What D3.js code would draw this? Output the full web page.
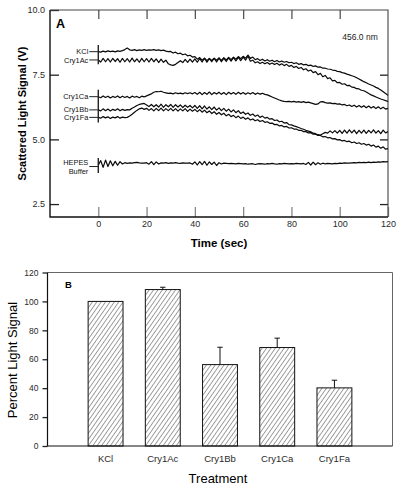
<!DOCTYPE html>
<html><head><meta charset="utf-8">
<script src="https://cdn.jsdelivr.net/npm/d3@7"></script>
<style>
body{margin:0;background:#fff;}
svg{display:block;font-family:"Liberation Sans",Arial,Helvetica,sans-serif;}
</style></head><body>
<svg id="chart" width="404" height="489"></svg>
<script>
// ---------- Panel A data (1-second samples, t = 0..120 s) ----------
const kclTrace = [
8.39,8.37,8.41,8.38,8.42,8.39,8.41,8.38,8.42,8.40,
8.43,8.47,8.53,8.46,8.44,8.47,8.43,8.46,8.44,8.47,
8.44,8.46,8.45,8.47,8.44,8.46,8.43,8.45,8.41,8.39,
8.40,8.34,8.37,8.31,8.33,8.27,8.30,8.23,8.25,8.18,
8.20,8.10,8.16,8.06,8.14,8.04,8.13,8.05,8.14,8.06,
8.15,8.05,8.16,8.07,8.17,8.08,8.18,8.10,8.20,8.12,
8.21,8.14,8.26,8.13,8.18,8.08,8.12,8.05,8.10,8.03,
8.08,8.02,8.06,8.00,8.05,7.99,8.03,7.98,8.01,7.96,
7.98,7.93,7.96,7.90,7.93,7.88,7.90,7.85,7.87,7.82,
7.84,7.79,7.80,7.75,7.75,7.72,7.71,7.68,7.67,7.63,
7.62,7.58,7.56,7.52,7.49,7.46,7.43,7.38,7.33,7.28,
7.23,7.19,7.14,7.10,7.06,7.01,6.97,6.91,6.84,6.77,6.70];
const cry1AcTrace = [
8.07,7.99,8.13,8.00,8.12,7.99,8.13,8.01,8.12,7.98,
8.13,8.00,8.12,7.99,8.14,8.00,8.11,7.98,8.13,8.00,
8.12,7.99,8.13,8.00,8.11,7.97,8.10,7.98,8.06,7.92,
7.88,7.86,7.90,7.97,8.04,7.97,8.09,7.98,8.10,7.99,
8.11,7.98,8.12,7.99,8.13,7.98,8.12,8.00,8.13,7.99,
8.14,8.00,8.13,8.01,8.15,8.02,8.16,8.03,8.17,8.04,
8.18,8.06,8.22,8.02,8.06,7.96,8.00,7.93,7.98,7.92,
7.97,7.90,7.95,7.89,7.94,7.87,7.92,7.85,7.90,7.82,
7.86,7.78,7.82,7.74,7.78,7.69,7.73,7.64,7.68,7.58,
7.62,7.50,7.55,7.42,7.47,7.35,7.38,7.26,7.28,7.19,
7.20,7.13,7.15,7.08,7.09,7.02,7.01,6.96,6.95,6.90,
6.88,6.83,6.77,6.72,6.68,6.64,6.60,6.56,6.53,6.50,6.46];
const cry1CaTrace = [
6.65,6.61,6.68,6.62,6.67,6.60,6.66,6.62,6.68,6.61,
6.67,6.62,6.66,6.60,6.67,6.63,6.66,6.61,6.67,6.64,
6.68,6.72,6.76,6.82,6.85,6.84,6.86,6.82,6.80,6.78,
6.79,6.76,6.80,6.77,6.79,6.76,6.80,6.77,6.80,6.76,
6.81,6.74,6.82,6.73,6.81,6.74,6.83,6.73,6.81,6.75,
6.82,6.74,6.81,6.73,6.82,6.75,6.81,6.74,6.82,6.75,
6.81,6.74,6.80,6.75,6.81,6.74,6.79,6.75,6.78,6.74,
6.72,6.68,6.64,6.60,6.56,6.52,6.49,6.47,6.46,6.47,
6.45,6.47,6.44,6.46,6.43,6.46,6.42,6.44,6.41,6.38,
6.35,6.37,6.45,6.46,6.42,6.40,6.41,6.38,6.39,6.36,
6.37,6.33,6.35,6.30,6.33,6.27,6.32,6.25,6.31,6.24,
6.30,6.22,6.29,6.21,6.27,6.19,6.26,6.18,6.24,6.17,6.20];
const cry1BbTrace = [
6.14,6.10,6.18,6.11,6.17,6.10,6.16,6.12,6.18,6.11,
6.16,6.12,6.15,6.14,6.20,6.25,6.31,6.35,6.37,6.39,
6.33,6.27,6.35,6.26,6.34,6.25,6.36,6.24,6.34,6.26,
6.35,6.24,6.34,6.25,6.33,6.23,6.32,6.24,6.31,6.22,
6.31,6.20,6.30,6.18,6.29,6.17,6.26,6.15,6.25,6.13,
6.22,6.11,6.20,6.09,6.17,6.06,6.14,6.03,6.11,6.00,
6.06,5.97,6.02,5.93,5.98,5.89,5.94,5.85,5.90,5.82,
5.85,5.78,5.80,5.73,5.75,5.68,5.70,5.63,5.65,5.57,
5.56,5.52,5.49,5.46,5.42,5.39,5.35,5.32,5.29,5.24,
5.22,5.18,5.17,5.22,5.27,5.24,5.33,5.25,5.34,5.24,
5.35,5.23,5.36,5.24,5.37,5.25,5.36,5.22,5.35,5.24,
5.36,5.23,5.35,5.25,5.37,5.24,5.34,5.22,5.36,5.25,5.30];
const cry1FaTrace = [
5.85,5.82,5.88,5.83,5.87,5.81,5.86,5.83,5.88,5.82,
5.86,5.84,5.85,5.90,5.97,6.05,6.12,6.18,6.21,6.16,
6.20,6.12,6.19,6.10,6.20,6.11,6.21,6.10,6.19,6.11,
6.20,6.10,6.19,6.09,6.18,6.10,6.19,6.08,6.17,6.09,
6.16,6.07,6.15,6.05,6.13,6.03,6.10,6.00,6.07,5.97,
6.04,5.95,6.01,5.91,5.97,5.88,5.93,5.84,5.90,5.81,
5.86,5.78,5.83,5.75,5.79,5.72,5.76,5.69,5.73,5.66,
5.68,5.62,5.63,5.57,5.58,5.52,5.54,5.48,5.50,5.44,
5.45,5.40,5.40,5.35,5.35,5.30,5.30,5.25,5.26,5.20,
5.20,5.15,5.15,5.10,5.11,5.06,5.07,5.02,5.03,4.98,
4.99,4.94,4.96,4.91,4.93,4.87,4.90,4.84,4.87,4.81,
4.84,4.78,4.81,4.74,4.78,4.70,4.74,4.66,4.71,4.62,4.64];
const hepesTrace = [
4.00,4.18,3.92,4.20,3.95,4.17,3.98,4.15,4.00,4.14,
4.05,4.10,4.07,4.09,4.08,4.10,4.11,4.09,4.08,4.08,
4.10,4.04,4.14,4.02,4.13,4.05,4.09,4.08,4.10,4.07,
4.09,4.08,4.10,4.08,4.07,4.09,4.08,4.08,4.09,4.04,
4.13,4.01,4.14,4.02,4.15,4.00,4.13,4.03,4.12,3.99,
4.10,4.05,4.08,4.07,4.06,4.07,4.06,4.05,4.07,4.06,
4.05,4.06,4.04,4.05,4.06,4.03,4.05,4.06,4.05,4.04,
4.06,4.05,4.07,4.05,4.04,4.06,4.05,4.07,4.06,4.05,
4.06,4.05,4.07,4.06,4.05,4.07,4.03,4.11,4.01,4.12,
4.02,4.10,4.04,4.08,4.05,4.07,4.06,4.05,4.07,4.06,
4.08,4.07,4.09,4.08,4.08,4.09,4.10,4.09,4.11,4.10,
4.11,4.10,4.12,4.10,4.12,4.11,4.13,4.12,4.14,4.13,4.14];
const sampleTimes = d3.range(0, kclTrace.length); // seconds

const traceNames = ["KCl","Cry1Ac","Cry1Ca","Cry1Bb","Cry1Fa"];
const traceSeries = [kclTrace, cry1AcTrace, cry1CaTrace, cry1BbTrace, cry1FaTrace];
const bufferLabel = ["HEPES","Buffer"];
const bufferLeaderValue = 3.95;
const markerRanges = [[7.9, 8.65],[5.65, 6.92],[3.7, 4.28]];

const timeTicks = [0,20,40,60,80,100,120];
const voltTicks = [2.5,5.0,7.5,10.0];
const timeDomain = [-20,120];
const voltDomain = [2,10];

// ---------- Panel B data ----------
const treatments = ["KCl","Cry1Ac","Cry1Bb","Cry1Ca","Cry1Fa"];
const percentSignal = [100,108.2,56.3,68.1,40.2];
const percentError = [0,1.6,12,6.5,5.3];
const percentTicks = [0,20,40,60,80,100,120];

// ---------- Drawing ----------
const svg = d3.select("#chart");
svg.append("rect").attr("width",404).attr("height",489).attr("fill","#fff");

// Panel A
const A = {l:50, r:388, t:10, b:217};
const x = d3.scaleLinear().domain(timeDomain).range([A.l, A.r]);
const y = d3.scaleLinear().domain(voltDomain).range([A.b, A.t]);
const gA = svg.append("g");

function styleAxis(g, color, size){
  g.select(".domain").remove();
  g.selectAll(".tick line").attr("stroke", color).attr("stroke-width",1.3);
  g.selectAll(".tick text").attr("fill","#2a2a2a").style("font-size", size+"px")
   .style("font-family",'"Liberation Sans",Arial,sans-serif');
}

gA.append("g").attr("transform",`translate(${A.l},0)`)
  .call(d3.axisLeft(y).tickValues(voltTicks).tickSize(-9).tickPadding(5).tickFormat(d3.format(".1f")))
  .call(g=>styleAxis(g,"#222",9));
gA.append("g").attr("transform",`translate(${A.r},0)`)
  .call(d3.axisRight(y).tickValues(voltTicks.filter(v=>v<10)).tickSize(-8).tickFormat(""))
  .call(g=>styleAxis(g,"#222",9));
gA.append("g").attr("transform",`translate(0,${A.b})`)
  .call(d3.axisBottom(x).tickValues(timeTicks).tickSize(-10).tickPadding(4))
  .call(g=>styleAxis(g,"#888",9));
gA.append("g").attr("transform",`translate(0,${A.t})`)
  .call(d3.axisTop(x).tickValues(timeTicks.filter(v=>v<120)).tickSize(-9).tickFormat(""))
  .call(g=>styleAxis(g,"#555",9));

// frame
gA.append("path").attr("d",`M${A.l},${A.t}V${A.b}H${A.r}`).attr("fill","none").attr("stroke","#111").attr("stroke-width",1.4);
gA.append("path").attr("d",`M${A.l},${A.t}H${A.r}V${A.b}`).attr("fill","none").attr("stroke","#444").attr("stroke-width",1.1);

// traces
const line = d3.line().x((d,i)=>x(sampleTimes[i])).y(d=>y(d));
[...traceSeries, hepesTrace].forEach(s=>{
  gA.append("path").attr("d", line(s)).attr("fill","none")
    .attr("stroke","#0a0a0a").attr("stroke-width",1.2).attr("stroke-linejoin","round");
});

// start markers
markerRanges.forEach(r=>{
  gA.append("line").attr("x1",x(0)).attr("x2",x(0)).attr("y1",y(r[0])).attr("y2",y(r[1]))
    .attr("stroke","#222").attr("stroke-width",1.4);
});
// labels with leaders
traceSeries.forEach((s,i)=>{
  const yy = y(s[0]);
  gA.append("line").attr("x1",x(0)-9).attr("x2",x(0)).attr("y1",yy).attr("y2",yy).attr("stroke","#222").attr("stroke-width",1);
  gA.append("text").attr("x",x(0)-10).attr("y",yy).attr("dy","0.35em").attr("text-anchor","end")
    .style("font-size","7.4px").attr("fill","#111").text(traceNames[i]);
});
{
  const yy = y(bufferLeaderValue);
  gA.append("line").attr("x1",x(0)-9).attr("x2",x(0)).attr("y1",yy).attr("y2",yy).attr("stroke","#222").attr("stroke-width",1);
  bufferLabel.forEach((t,i)=>{
    gA.append("text").attr("x",x(0)-10).attr("y",yy + (i===0?-4.3:5)).attr("dy","0.35em").attr("text-anchor","end")
      .style("font-size","7.4px").attr("fill","#111").text(t);
  });
}
gA.append("text").attr("x",56).attr("y",24).attr("dy","0.35em").style("font-size","12.5px").style("font-weight","bold").text("A");
gA.append("text").attr("x",360).attr("y",37.5).attr("dy","0.35em").attr("text-anchor","middle").style("font-size","8.5px").attr("fill","#222").text("456.0 nm");
gA.append("text").attr("transform",`translate(22,${(A.t+A.b)/2}) rotate(-90)`).attr("text-anchor","middle").attr("dy","0.35em")
  .style("font-size","11px").style("font-weight","bold").text("Scattered Light Signal (V)");
gA.append("text").attr("x",(A.l+A.r)/2).attr("y",243).attr("dy","0.35em").attr("text-anchor","middle")
  .style("font-size","11.5px").style("font-weight","bold").text("Time (sec)");

// Panel B
const B = {l:47.5, r:392.5, t:272.5, b:446};
const xb = d3.scaleBand().domain(treatments).range([B.l, B.r]).paddingInner(0.39).paddingOuter(0.71);
const yb = d3.scaleLinear().domain([0,120]).range([B.b, B.t]);
const gB = svg.append("g");

const defs = svg.append("defs");
const pat = defs.append("pattern").attr("id","hatch").attr("patternUnits","userSpaceOnUse")
  .attr("width",3.6).attr("height",10).attr("patternTransform","rotate(35)");
pat.append("line").attr("x1",0).attr("y1",-1).attr("x2",0).attr("y2",11).attr("stroke","#222").attr("stroke-width",0.9);

gB.selectAll("rect.bar").data(treatments).join("rect").attr("class","bar")
  .attr("x",d=>xb(d)).attr("width",xb.bandwidth())
  .attr("y",(d,i)=>yb(percentSignal[i])).attr("height",(d,i)=>yb(0)-yb(percentSignal[i]))
  .attr("fill","url(#hatch)").attr("stroke","#111").attr("stroke-width",1);

treatments.forEach((d,i)=>{
  if(percentError[i] <= 0) return;
  const cx = xb(d)+xb.bandwidth()/2;
  gB.append("line").attr("x1",cx).attr("x2",cx).attr("y1",yb(percentSignal[i])).attr("y2",yb(percentSignal[i]+percentError[i])).attr("stroke","#111");
  gB.append("line").attr("x1",cx-2.7).attr("x2",cx+2.7).attr("y1",yb(percentSignal[i]+percentError[i])).attr("y2",yb(percentSignal[i]+percentError[i])).attr("stroke","#111");
});

gB.append("g").attr("transform",`translate(${B.l},0)`)
  .call(d3.axisLeft(yb).tickValues(percentTicks).tickSize(5).tickPadding(4))
  .call(g=>styleAxis(g,"#222",8.5));
gB.append("g").attr("transform",`translate(0,${B.b})`)
  .call(d3.axisBottom(xb).tickSize(0).tickPadding(9))
  .call(g=>styleAxis(g,"#222",9.5));

gB.append("path").attr("d",`M${B.l},${B.t}H${B.r}V${B.b}`).attr("fill","none").attr("stroke","#666").attr("stroke-width",1);
gB.append("path").attr("d",`M${B.l},${B.t}V${B.b}H${B.r}`).attr("fill","none").attr("stroke","#111").attr("stroke-width",1.2);

gB.append("text").attr("x",65).attr("y",285).attr("dy","0.35em").style("font-size","9.5px").style("font-weight","bold").text("B");
gB.append("text").attr("transform",`translate(12,360) rotate(-90)`).attr("text-anchor","middle").attr("dy","0.35em")
  .style("font-size","13px").text("Percent Light Signal");
gB.append("text").attr("x",218).attr("y",478).attr("dy","0.35em").attr("text-anchor","middle")
  .style("font-size","13px").text("Treatment");
</script>
</body></html>
